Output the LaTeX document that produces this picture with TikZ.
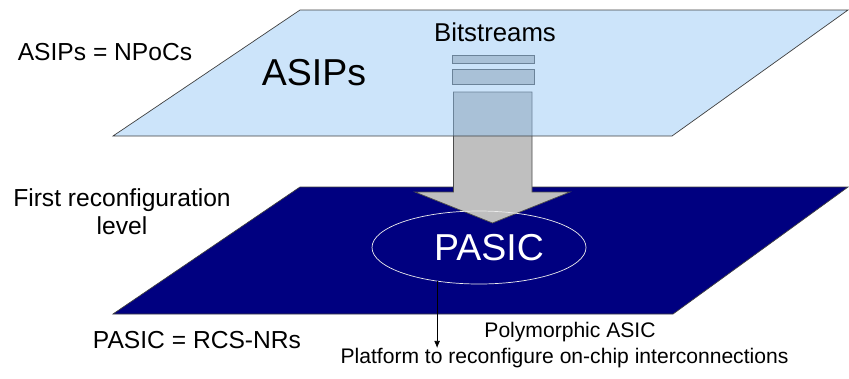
\documentclass[tikz,border=0pt]{standalone}
\usepackage{fontspec}
\setmainfont{Liberation Sans}
\usetikzlibrary{arrows.meta,shapes.geometric}
\definecolor{planeblue}{RGB}{144,196,244}
\definecolor{planenavy}{RGB}{0,0,128}

\begin{document}
\begin{tikzpicture}[
  x=0.03cm, y=-0.03cm,
  plane/.style={draw=black!75, line width=0.6pt},
  toplane/.style={plane, fill=planeblue, fill opacity=0.46},
  lowplane/.style={plane, fill=planenavy},
  stream/.style={fill=gray!50, draw=black!70, line width=0.6pt},
  lab/.style={font=\fontsize{21}{24}\selectfont, align=center},
  note/.style={font=\fontsize{18}{21}\selectfont, align=center},
  arrow/.style={-{Latex[length=6pt,width=5pt]}, line width=0.6pt}
]
\useasboundingbox (0,0) rectangle (849,378);

% first reconfiguration level
\draw[lowplane] (113,314) -- (673,314) -- (848,187) -- (300,187) -- cycle;

% bitstreams flowing down
\draw[stream] (453.5,92) -- (532,92) -- (532,192) -- (570,192) -- (492.5,223)
  -- (415,192) -- (453.5,192) -- cycle;
\draw[stream] (452,55) rectangle (534,63);
\draw[stream] (452,69) rectangle (534,84);

% ASIP level
\draw[toplane] (113,136) -- (672,136) -- (848,10) -- (300,10) -- cycle;

\node[lab, font=\fontsize{32}{36}\selectfont] (asips) at (314,73) {ASIPs};
\node[lab, font=\fontsize{22}{26}\selectfont] (bits) at (495,32) {Bitstreams};
\node[lab] (asipeq) at (105,52) {ASIPs = NPoCs};
\node[lab] (level) at (122,212) {First reconfiguration\\level};
\node[lab] (pasiceq) at (197,340) {PASIC = RCS-NRs};

\node[ellipse, draw=white!85!gray, line width=0.6pt, minimum width=6.42cm, minimum height=2.19cm,
  text=white, font=\fontsize{32}{36}\selectfont] (pasic) at (479,247.5) {\hspace{0.6cm}PASIC};

\node[note] (poly) at (570,332) {Polymorphic ASIC};
\node[note] (platform) at (564.5,358) {Platform to reconfigure on-chip interconnections};
\coordinate (tap) at (438,348);
\draw[arrow] (pasic.219) -- (pasic.219 |- tap);
\end{tikzpicture}
\end{document}
